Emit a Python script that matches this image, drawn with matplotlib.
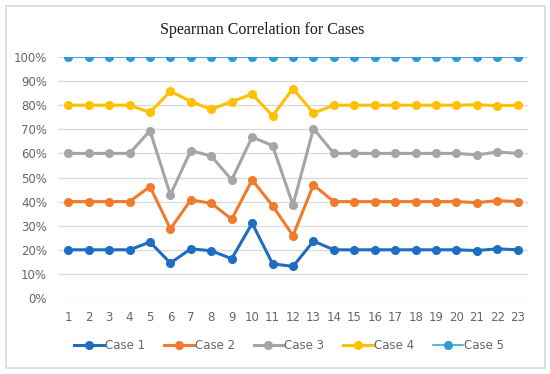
import matplotlib.pyplot as plt
from matplotlib.patches import Rectangle
from matplotlib.ticker import PercentFormatter

x = list(range(1, 24))
case1 = [20, 20, 20, 20, 23.2, 14.5, 20.4, 19.6, 16.3, 31.0, 14.2, 13.1, 23.6,
         20, 20, 20, 20, 20, 20, 20, 19.7, 20.4, 20]
case2 = [40, 40, 40, 40, 46.2, 28.7, 40.7, 39.3, 32.7, 49.0, 38.3, 25.9, 46.9,
         40, 40, 40, 40, 40, 40, 40, 39.6, 40.4, 40]
case3 = [60, 60, 60, 60, 69.4, 42.8, 61.2, 58.9, 49.0, 66.8, 63.2, 38.6, 70.3,
         60, 60, 60, 60, 60, 60, 60, 59.4, 60.6, 60]
case4 = [80, 80, 80, 80, 77.0, 85.8, 81.5, 78.3, 81.5, 84.6, 75.6, 86.9, 76.7,
         80, 80, 80, 80, 80, 80, 80, 80.2, 79.8, 80]
case5 = [100] * 23

series = [('Case 1', case1, '#1F6DC2', 2.2),
          ('Case 2', case2, '#F07B2C', 2.2),
          ('Case 3', case3, '#A5A5A5', 2.2),
          ('Case 4', case4, '#FFC000', 2.2),
          ('Case 5', case5, '#2A9BD6', 1.1)]

fig = plt.figure(figsize=(5.5, 3.74), dpi=100)
fig.patch.set_facecolor('white')
fig.add_artist(Rectangle((6/550, 6/374), 539/550, 362/374, transform=fig.transFigure,
                         facecolor='none', edgecolor='#D9D9D9', linewidth=1.2))

ax = fig.add_axes([0.1055, 0.2032, 0.8545, 0.6444])
for label, vals, color, lw in series:
    ax.plot(x, [v / 100 for v in vals], color=color, lw=lw, marker='o',
            markersize=5.5, label=label, zorder=3)

ax.set_xlim(0.5, 23.5)
ax.set_ylim(0, 1)
ax.set_yticks([i / 10 for i in range(11)])
ax.yaxis.set_major_formatter(PercentFormatter(1.0, decimals=0))
ax.set_xticks(x)
ax.grid(axis='y', color='#D9D9D9', lw=0.9, zorder=0)
for s in ax.spines.values():
    s.set_visible(False)
ax.tick_params(length=0, labelsize=8.5, labelcolor='#666666')
ax.tick_params(axis='x', pad=9)
ax.tick_params(axis='y', pad=8)

fig.text(262/550, 1 - 30/374, 'Spearman Correlation for Cases', fontsize=11.5,
         family='Liberation Serif', color='#1A1A1A', ha='center', va='center')

fig.legend(loc='center', bbox_to_anchor=(289/550, 0.077), ncol=5, frameon=False,
           fontsize=8.5, labelcolor='#666666', handlelength=2.5, handletextpad=0.1,
           columnspacing=1.6)

fig.savefig('out.png', dpi=100, facecolor='white')
